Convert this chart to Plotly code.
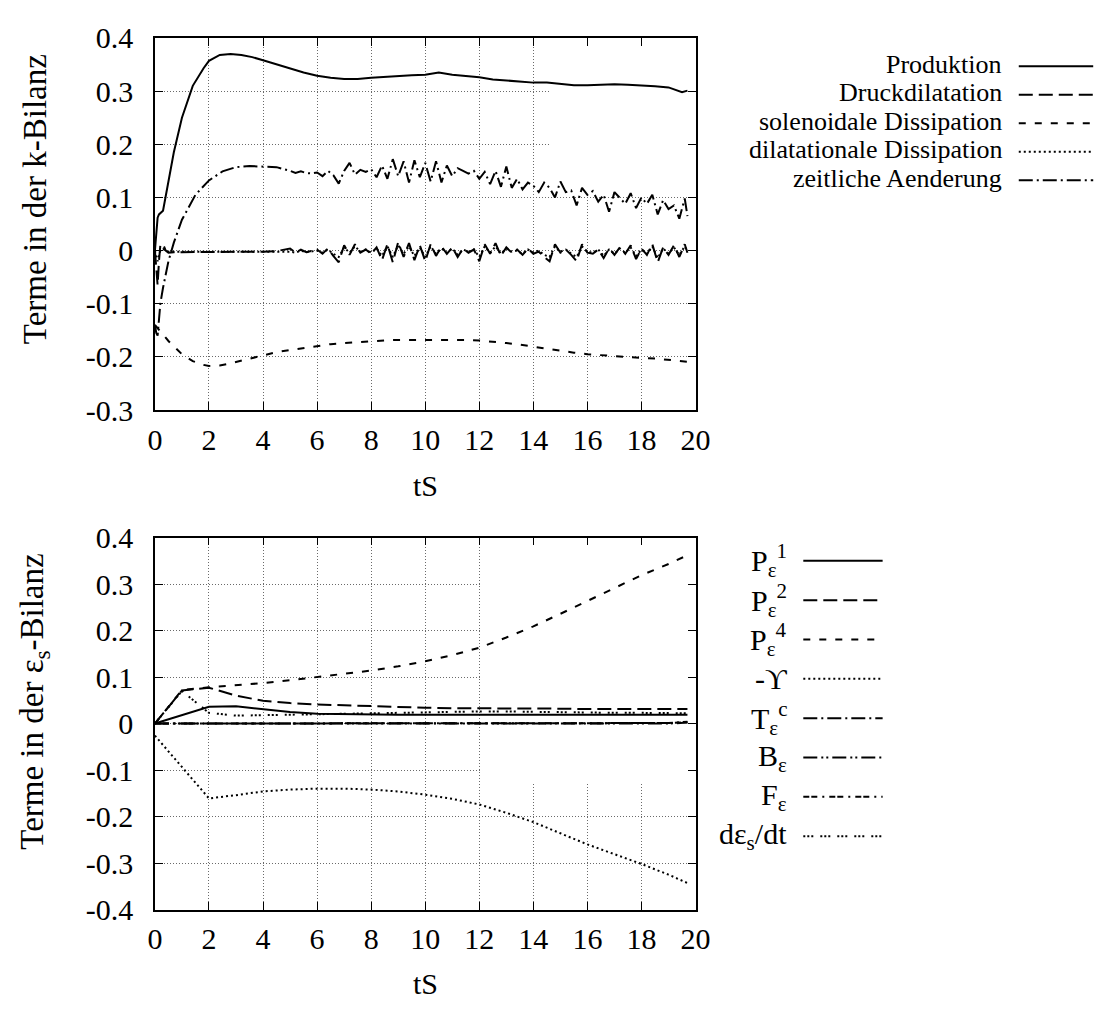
import numpy as np
import plotly.graph_objects as go

# ---------------- k-Bilanz (upper panel) ----------------
t_k_smooth = [0, 0.05, 0.1, 0.15, 0.2, 0.3, 0.5, 0.7, 1.0, 1.4,
              1.8, 2.0, 2.4, 2.8, 3.2, 3.6, 4.0, 4.5, 5.0, 5.5,
              6.0, 6.5, 7.0, 7.5, 8.0, 8.5, 9.0, 9.5, 10.0, 10.5,
              11.0, 11.5, 12.0, 12.5, 13.0, 13.5, 14.0, 14.5, 15.0, 15.5,
              16.0, 16.5, 17.0, 17.5, 18.0, 18.5, 19.0, 19.3, 19.5, 19.7]

produktion = [0.0, 0.035, 0.062, 0.068, 0.07, 0.075, 0.13, 0.185, 0.25, 0.31,
              0.343, 0.357, 0.368, 0.37, 0.368, 0.364, 0.358, 0.35, 0.342, 0.335,
              0.329, 0.325, 0.323, 0.323, 0.325, 0.327, 0.329, 0.330, 0.331, 0.335,
              0.331, 0.329, 0.326, 0.322, 0.320, 0.318, 0.316, 0.316, 0.314, 0.311,
              0.311, 0.312, 0.313, 0.312, 0.311, 0.309, 0.307, 0.302, 0.298, 0.301]

sol_dissipation = [-0.14, -0.143, -0.146, -0.149, -0.152, -0.158, -0.17, -0.18, -0.195, -0.208,
                   -0.215, -0.217, -0.216, -0.212, -0.207, -0.202, -0.196, -0.191, -0.187, -0.183,
                   -0.179, -0.176, -0.174, -0.172, -0.170, -0.169, -0.168, -0.168, -0.167, -0.167,
                   -0.167, -0.168, -0.169, -0.171, -0.174, -0.177, -0.181, -0.185, -0.189, -0.192,
                   -0.195, -0.197, -0.199, -0.201, -0.202, -0.203, -0.205, -0.206, -0.208, -0.209]

t_k_noisy = ([0, 0.05, 0.1, 0.15, 0.2, 0.3, 0.4, 0.5, 0.7, 1.0, 1.5, 2.0, 2.5, 3.0, 3.5, 4.0, 4.5]
             + [round(v, 1) for v in np.arange(5.0, 19.61, 0.2)] + [19.7])

druckdilatation = ([0.0, -0.04, -0.065, -0.02, 0.01, 0.012, 0.0, -0.004, -0.003, -0.003,
                    -0.003, -0.002, -0.003, -0.002, -0.003, -0.002, -0.001]
                   + [0.004, -0.004, 0.002, -0.003, -0.001, 0.002, -0.006, 0.004, -0.010, -0.022,
                      0.010, -0.008, 0.012, -0.004, 0.002, -0.006, 0.006, -0.018, 0.012, -0.022,
                      0.016, -0.012, 0.014, -0.018, 0.010, -0.020, 0.012, -0.010, 0.008, -0.006,
                      0.006, -0.012, 0.004, -0.004, 0.002, -0.020, 0.012, -0.006, 0.014, -0.010,
                      0.006, -0.004, 0.002, -0.008, 0.004, -0.006, -0.002, -0.012, -0.020, 0.012,
                      -0.004, 0.002, -0.008, -0.020, 0.012, -0.004, -0.006, 0.002, -0.014, 0.004,
                      -0.008, 0.006, -0.006, 0.010, -0.016, 0.004, -0.008, 0.012, -0.022, 0.006,
                      -0.008, 0.010, -0.012, 0.012]
                   + [-0.004])

dil_dissipation = ([0.0, -0.01, -0.02, -0.01, 0.0, 0.003, 0.0, -0.002, -0.002, -0.002,
                    -0.002, -0.002, -0.002, -0.002, -0.002, -0.002, -0.002]
                   + [-0.002, -0.004, 0.0, -0.003, -0.002, 0.0, -0.004, 0.002, -0.006, -0.012,
                      0.006, -0.004, 0.008, -0.002, 0.002, -0.004, 0.004, -0.010, 0.008, -0.012,
                      0.010, -0.006, 0.008, -0.010, 0.006, -0.012, 0.008, -0.006, 0.004, -0.004,
                      0.004, -0.008, 0.002, -0.002, 0.002, -0.012, 0.008, -0.004, 0.008, -0.006,
                      0.004, -0.002, 0.0, -0.006, 0.002, -0.004, 0.0, -0.008, -0.012, 0.008,
                      -0.002, 0.002, -0.006, -0.012, 0.008, -0.002, -0.004, 0.002, -0.010, 0.002,
                      -0.006, 0.004, -0.004, 0.006, -0.010, 0.002, -0.006, 0.008, -0.014, 0.004,
                      -0.006, 0.006, -0.008, 0.008]
                   + [-0.002])

zeitl_aenderung = ([-0.14, -0.155, -0.16, -0.12, -0.1, -0.07, -0.045, -0.02, 0.015, 0.058,
                    0.105, 0.132, 0.149, 0.157, 0.159, 0.158, 0.157]
                   + [0.150, 0.146, 0.149, 0.146, 0.145, 0.147, 0.140, 0.150, 0.142, 0.126,
                      0.150, 0.165, 0.143, 0.152, 0.148, 0.153, 0.138, 0.160, 0.135, 0.172,
                      0.140, 0.168, 0.128, 0.170, 0.138, 0.165, 0.130, 0.168, 0.128, 0.160,
                      0.140, 0.155, 0.150, 0.145, 0.150, 0.135, 0.148, 0.125, 0.150, 0.120,
                      0.158, 0.118, 0.135, 0.115, 0.128, 0.122, 0.110, 0.128, 0.118, 0.100,
                      0.130, 0.110, 0.113, 0.085, 0.118, 0.105, 0.112, 0.092, 0.105, 0.073,
                      0.110, 0.098, 0.088, 0.108, 0.080, 0.100, 0.088, 0.105, 0.068, 0.095,
                      0.078, 0.085, 0.060, 0.098]
                   + [0.065])

# ---------------- eps_s-Bilanz (lower panel) ----------------
t_eps = [0, 1, 2, 3, 4, 5, 6, 7, 8, 9, 10, 11, 12, 13, 14, 15, 16, 17, 18, 19, 19.7]
p_eps1 = [0.0, 0.018, 0.036, 0.037, 0.031, 0.025, 0.021, 0.020, 0.019, 0.019, 0.019,
          0.019, 0.019, 0.019, 0.019, 0.019, 0.019, 0.019, 0.019, 0.019, 0.019]
p_eps2 = [0.0, 0.071, 0.077, 0.060, 0.049, 0.044, 0.041, 0.039, 0.037, 0.035, 0.034,
          0.033, 0.033, 0.032, 0.032, 0.032, 0.031, 0.031, 0.031, 0.031, 0.031]
p_eps4 = [0.0, 0.072, 0.078, 0.082, 0.087, 0.093, 0.100, 0.107, 0.114, 0.123, 0.134,
          0.147, 0.163, 0.185, 0.209, 0.236, 0.264, 0.292, 0.319, 0.343, 0.362]
minus_upsilon = [-0.026, -0.093, -0.161, -0.154, -0.146, -0.142, -0.140, -0.140, -0.142, -0.146, -0.153,
                 -0.162, -0.174, -0.192, -0.212, -0.236, -0.260, -0.281, -0.302, -0.325, -0.343]
t_eps_c = [0.0, 0.0, 0.0, 0.0, 0.0, 0.0, 0.0, 0.0, 0.0, 0.0, 0.0,
           0.0, 0.0, 0.0, 0.0, 0.0, 0.0, 0.0, 0.0, 0.001, 0.004]
b_eps = [0.0, 0.0, 0.0, 0.0, 0.0, 0.0, 0.0, 0.0, 0.0, 0.0, 0.0,
         0.0, 0.0, 0.0, 0.0, 0.0, 0.0, 0.0, 0.0, 0.0, 0.002]
f_eps = [0.0, 0.0, 0.0, 0.0, 0.0, 0.0, 0.0, 0.0, 0.0, 0.0, 0.0,
         0.0, 0.0, 0.0, 0.0, 0.0, 0.0, 0.0, 0.0, 0.001, 0.003]
deps_dt = [0.0, 0.070, 0.023, 0.017, 0.018, 0.019, 0.020, 0.021, 0.022, 0.024, 0.025,
           0.026, 0.026, 0.026, 0.025, 0.025, 0.024, 0.023, 0.023, 0.022, 0.022]

x_ticks = list(range(0, 21, 2))
y_ticks_k = [-0.3, -0.2, -0.1, 0, 0.1, 0.2, 0.3, 0.4]
y_ticks_eps = [-0.4, -0.3, -0.2, -0.1, 0, 0.1, 0.2, 0.3, 0.4]

# ---------------- styling ----------------
W, H = 1118, 1014
FONT = "Liberation Serif, Times New Roman, serif"
FS = 30
FS_KEY_K = 26
FS_YTITLE = 33
LW = 2

SOLID = "solid"
LONG_DASH = "14px,6px"
SHORT_DASH = "7px,9px"
DOTTED = "2px,3px"
DASH_DOT = "14px,4px,2px,4px"
DASH_DOT_DOT = "14px,4px,2px,3px,2px,4px"
DDASH_DOT = "6px,2px,6px,5px,2px,5px"
TRIPLE_DOT = "2px,2px,2px,2px,2px,7px"

# plot frames in pixels (left, right, top, bottom)
X_L, X_R = 150, 702
TOP_T, TOP_B = 21.7, 406.7
BOT_T, BOT_B = 538.6, 923.5


def px(x):
    return x / W


def py(y):
    return 1 - y / H


def fmt(v):
    s = f"{v:.1f}"
    return "0" if s in ("0.0", "-0.0") else s


fig = go.Figure()

k_series = [
    ("Produktion", t_k_smooth, produktion, SOLID),
    ("Druckdilatation", t_k_noisy, druckdilatation, LONG_DASH),
    ("solenoidale Dissipation", t_k_smooth, sol_dissipation, SHORT_DASH),
    ("dilatationale Dissipation", t_k_noisy, dil_dissipation, DOTTED),
    ("zeitliche Aenderung", t_k_noisy, zeitl_aenderung, DASH_DOT),
]
eps_series = [
    ("P<sub>ε</sub><sup>1</sup>", p_eps1, SOLID),
    ("P<sub>ε</sub><sup>2</sup>", p_eps2, LONG_DASH),
    ("P<sub>ε</sub><sup>4</sup>", p_eps4, SHORT_DASH),
    ("-ϒ", minus_upsilon, DOTTED),
    ("T<sub>ε</sub><sup>c</sup>", t_eps_c, DASH_DOT),
    ("B<sub>ε</sub>", b_eps, DASH_DOT_DOT),
    ("F<sub>ε</sub>", f_eps, DDASH_DOT),
    ("dε<sub>s</sub>/dt", deps_dt, TRIPLE_DOT),
]

for name, tx, vals, dash in k_series:
    fig.add_trace(go.Scatter(x=tx, y=vals, mode="lines", name=name, showlegend=False,
                             line=dict(color="black", width=LW, dash=dash),
                             xaxis="x", yaxis="y"))

for name, vals, dash in eps_series:
    fig.add_trace(go.Scatter(x=t_eps, y=vals, mode="lines", name=name, showlegend=False,
                             line=dict(color="black", width=LW, dash=dash),
                             xaxis="x2", yaxis="y2"))

axis_common = dict(
    showline=True, linecolor="black", linewidth=1.5, mirror="ticks",
    ticks="inside", ticklen=8, tickwidth=1.2, tickcolor="black",
    showgrid=True, gridcolor="#6a6a6a", gridwidth=1, griddash="1px,2px",
    zeroline=False, tickfont=dict(family=FONT, size=FS, color="black"),
)

fig.update_layout(
    width=W, height=H,
    margin=dict(l=0, r=0, t=0, b=0),
    paper_bgcolor="white", plot_bgcolor="white",
    font=dict(family=FONT, size=FS, color="black"),
    xaxis=dict(domain=[px(X_L), px(X_R)], range=[0, 20], anchor="y",
               tickvals=x_ticks, ticktext=[str(v) for v in x_ticks],
               ticklabelstandoff=2, **axis_common),
    yaxis=dict(domain=[py(TOP_B), py(TOP_T)], range=[-0.3, 0.4], anchor="x",
               tickvals=y_ticks_k, ticktext=[fmt(v) for v in y_ticks_k],
               ticklabelstandoff=14, **axis_common),
    xaxis2=dict(domain=[px(X_L), px(X_R)], range=[0, 20], anchor="y2",
                tickvals=x_ticks, ticktext=[str(v) for v in x_ticks],
                ticklabelstandoff=2, **axis_common),
    yaxis2=dict(domain=[py(BOT_B), py(BOT_T)], range=[-0.4, 0.4], anchor="x2",
                tickvals=y_ticks_eps, ticktext=[fmt(v) for v in y_ticks_eps],
                ticklabelstandoff=14, **axis_common),
)

# grid is left out behind the key areas
shapes = [
    dict(type="rect", xref="x", yref="y", x0=14.6, x1=20, y0=0.103, y1=0.4,
         fillcolor="white", line=dict(width=0), layer="between"),
    dict(type="rect", xref="x2", yref="y2", x0=12.1, x1=20, y0=-0.127, y1=0.4,
         fillcolor="white", line=dict(width=0), layer="between"),
]

annotations = []

# key for the upper panel: text right-aligned, line sample to the right
k_text_right, k_line_x0, k_line_x1 = 1016, 1032, 1108
k_row0, k_row_step = 51, 29.5
for i, (name, _, _, dash) in enumerate(k_series):
    yr = k_row0 + i * k_row_step
    annotations.append(dict(x=px(k_text_right), y=py(yr - 2), xref="paper", yref="paper",
                            text=name, showarrow=False, xanchor="right", yanchor="middle",
                            borderpad=0,
                            font=dict(family=FONT, size=FS_KEY_K, color="black")))
    shapes.append(dict(type="line", xref="paper", yref="paper",
                       x0=px(k_line_x0), x1=px(k_line_x1), y0=py(yr), y1=py(yr),
                       line=dict(color="black", width=LW, dash=dash)))

# key for the lower panel
e_text_right, e_line_x0, e_line_x1 = 796, 812, 893
e_row0, e_row_step = 562.7, 40.7
for i, (name, _, dash) in enumerate(eps_series):
    yr = e_row0 + i * e_row_step
    annotations.append(dict(x=px(e_text_right), y=py(yr), xref="paper", yref="paper",
                            text=name, showarrow=False, xanchor="right", yanchor="middle",
                            borderpad=0,
                            font=dict(family=FONT, size=FS, color="black")))
    shapes.append(dict(type="line", xref="paper", yref="paper",
                       x0=px(e_line_x0), x1=px(e_line_x1), y0=py(yr), y1=py(yr),
                       line=dict(color="black", width=LW, dash=dash)))

# axis titles
x_mid = (X_L + X_R) / 2
annotations += [
    dict(x=px(x_mid), y=py(485), xref="paper", yref="paper", text="tS",
         showarrow=False, xanchor="center", yanchor="middle", font=dict(family=FONT, size=FS)),
    dict(x=px(x_mid), y=py(1000), xref="paper", yref="paper", text="tS",
         showarrow=False, xanchor="center", yanchor="middle", font=dict(family=FONT, size=FS)),
    dict(x=px(27), y=py(188), xref="paper", yref="paper", text="Terme in der k-Bilanz",
         textangle=-90, showarrow=False, xanchor="center", yanchor="middle",
         font=dict(family=FONT, size=FS_YTITLE)),
    dict(x=px(27), y=py(708), xref="paper", yref="paper",
         text="Terme in der ε<sub>s</sub>-Bilanz",
         textangle=-90, showarrow=False, xanchor="center", yanchor="middle",
         font=dict(family=FONT, size=FS_YTITLE)),
]

fig.update_layout(shapes=shapes, annotations=annotations)
fig.write_html("out.html")
